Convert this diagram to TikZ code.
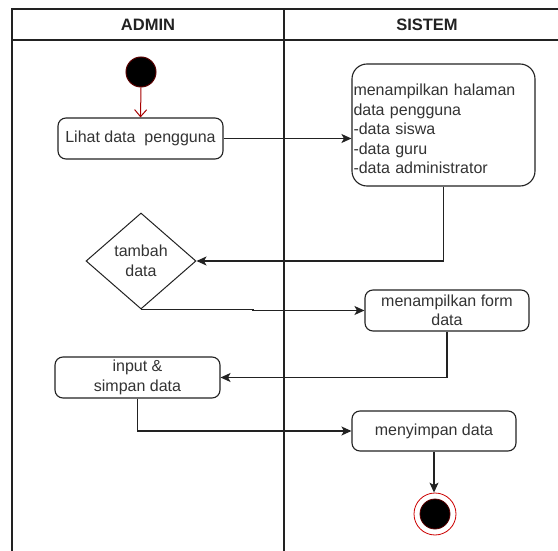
\documentclass[tikz,border=0pt]{standalone}
\usepackage{fontspec}
\setmainfont{Liberation Sans}
\usetikzlibrary{shapes.geometric,arrows.meta}
\definecolor{ink}{HTML}{222222}
\definecolor{txt}{HTML}{333333}
\tikzset{
  lane/.style={draw=ink, line width=1.5pt},
  act/.style={draw=ink, line width=1.1pt, rounded corners=8pt, fill=white,
    text=txt, font=\fontsize{16}{19.5}\selectfont, align=center, inner sep=2pt},
  choice/.style={draw=ink, line width=1pt, diamond, fill=white, text=txt,
    font=\fontsize{16}{19.5}\selectfont, align=center, inner sep=0pt},
  flow/.style={draw=ink, line width=1.2pt, -{Stealth[length=10pt,width=9pt,inset=2.5pt]}},
  startflow/.style={draw=red!65!black, line width=1pt, -{Straight Barb[length=7pt,width=12pt]}},
  hdr/.style={font=\fontsize{16.5}{18}\selectfont\bfseries, text=ink},
}
\begin{document}
\begin{tikzpicture}[x=1pt,y=-1pt]
\useasboundingbox (0,0) rectangle (558,551);
\fill[white] (0,0) rectangle (558,551);

% swimlane frame
\draw[lane] (12,551) -- (12,9) -- (558,9);
\draw[lane] (12,40) -- (558,40);
\draw[lane] (284,9) -- (284,551);
\node[hdr] (hadmin) at (148,25) {ADMIN};
\node[hdr] (hsistem) at (427,25) {SISTEM};

% activity nodes
\node[circle, fill=black, draw=red!35!black, line width=1pt, minimum size=30pt, inner sep=0pt] (start) at (141,72) {};
\node[act, minimum width=165pt, minimum height=41pt] (lihat) at (140.5,138.5) {Lihat data\ \ pengguna};
\node[act, rounded corners=15pt, minimum width=183pt, minimum height=122pt,
      text width=180pt, align=left, inner sep=1pt] (tampil) at (443.5,125)
  {\rule{0pt}{20pt}menampilkan halaman\\data pengguna\\-data siswa\\-data guru\\-data administrator};
\node[choice, minimum width=110pt, minimum height=96pt, aspect=1.15] (tambah) at (141,261) {tambah\\data};
\node[act, minimum width=164pt, minimum height=41pt] (form) at (447,310.5) {menampilkan form\\data};
\node[act, minimum width=165pt, minimum height=41pt] (input) at (137.5,377.5) {input \&\\simpan data};
\node[act, minimum width=164pt, minimum height=40pt] (simpan) at (434,431) {menyimpan data};
\node[circle, draw=red!80!black, line width=0.8pt, fill=white, minimum size=42pt, inner sep=0pt] (end) at (435,514) {};
\node[circle, fill=black, draw=red!35!black, line width=0.8pt, minimum size=30pt, inner sep=0pt] (endin) at (end.center) {};

% control flow
\draw[startflow] (start.south) -- (lihat.north);
\draw[flow] (lihat.east) -- (lihat.east -| tampil.west);
\draw[flow] (tampil.south) |- (tambah.east);
\draw[flow] (tambah.south) -- ++(112,0) |- (form.west);
\draw[flow] (form.south) |- (input.east);
\draw[flow] (input.south) |- (simpan.west);
\draw[flow] (simpan.south) -- (simpan.south |- end.north);
\end{tikzpicture}
\end{document}
